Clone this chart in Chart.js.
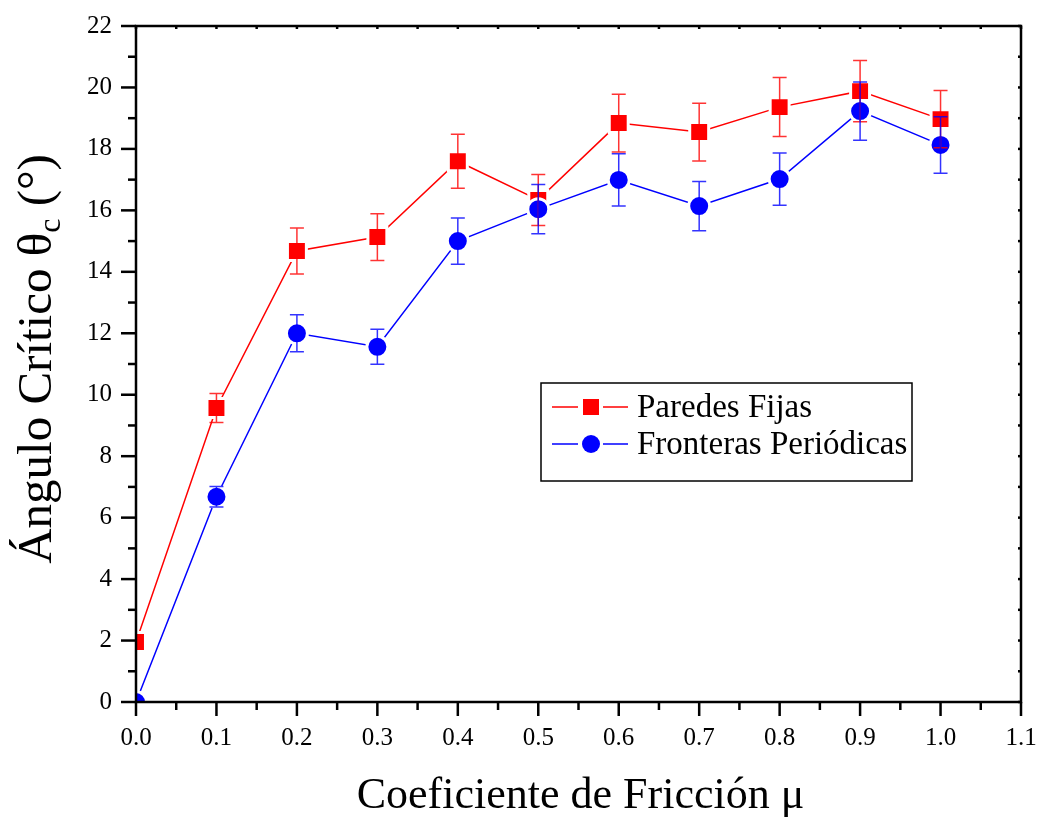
<!DOCTYPE html>
<html>
<head>
<meta charset="utf-8">
<script src="https://cdn.jsdelivr.net/npm/chart.js@4"></script>
<style>
  body { margin: 0; background: #fff; }
</style>
</head>
<body>
<canvas id="chart" width="1042" height="818"></canvas>
<script>
const mu = [0.0, 0.1, 0.2, 0.3, 0.4, 0.5, 0.6, 0.7, 0.8, 0.9, 1.0];
const paredesFijas = [1.95, 9.57, 14.68, 15.13, 17.6, 16.34, 18.84, 18.55, 19.36, 19.88, 18.97];
const paredesErr = [0, 0.47, 0.75, 0.76, 0.88, 0.83, 0.94, 0.94, 0.96, 1.0, 0.93];
const fronteras = [0, 6.68, 12.0, 11.56, 15.0, 16.04, 16.99, 16.14, 17.02, 19.23, 18.13];
const fronterasErr = [0, 0.33, 0.6, 0.57, 0.75, 0.8, 0.85, 0.8, 0.85, 0.95, 0.92];

const serif = '"Liberation Serif", "Times New Roman", serif';

const toPoints = (ys) => mu.map((x, i) => ({ x: x, y: ys[i] }));

// error bars drawn on top of the markers
const errorBars = {
  id: 'errorBars',
  afterDatasetsDraw(chart) {
    const { ctx, scales: { x, y } } = chart;
    ctx.save();
    chart.data.datasets.forEach((ds) => {
      ctx.strokeStyle = ds.errColor;
      ctx.lineWidth = 1.5;
      ds.data.forEach((p, i) => {
        const e = ds.errors[i];
        if (!e) return;
        const px = x.getPixelForValue(p.x);
        const top = y.getPixelForValue(p.y + e);
        const bot = y.getPixelForValue(p.y - e);
        ctx.beginPath();
        ctx.moveTo(px, top); ctx.lineTo(px, bot);
        ctx.moveTo(px - 7, top); ctx.lineTo(px + 7, top);
        ctx.moveTo(px - 7, bot); ctx.lineTo(px + 7, bot);
        ctx.stroke();
      });
    });
    ctx.restore();
  }
};

// box, ticks, titles and legend
const frame = {
  id: 'frame',
  afterDraw(chart) {
    const { ctx, chartArea: a, scales: { x, y } } = chart;
    ctx.save();
    ctx.strokeStyle = '#000';
    ctx.lineWidth = 2.5;
    ctx.strokeRect(a.left, a.top, a.right - a.left, a.bottom - a.top);

    const seg = (x1, y1, x2, y2) => { ctx.beginPath(); ctx.moveTo(x1, y1); ctx.lineTo(x2, y2); ctx.stroke(); };

    const xt = x.ticks.map(t => t.value);
    xt.forEach((v, i) => {
      const px = x.getPixelForValue(v);
      seg(px, a.bottom, px, a.bottom + 14);
      seg(px, a.top, px, a.top + 3);
      if (i < xt.length - 1) {
        const m = x.getPixelForValue((v + xt[i + 1]) / 2);
        seg(m, a.bottom, m, a.bottom + 8);
        seg(m, a.top, m, a.top + 3);
      }
    });
    const yt = y.ticks.map(t => t.value);
    yt.forEach((v, i) => {
      const py = y.getPixelForValue(v);
      seg(a.left - 15, py, a.left, py);
      seg(a.right - 3, py, a.right, py);
      if (i < yt.length - 1) {
        const m = y.getPixelForValue((v + yt[i + 1]) / 2);
        seg(a.left - 8, m, a.left, m);
        seg(a.right - 3, m, a.right, m);
      }
    });

    // axis titles
    ctx.fillStyle = '#000';
    ctx.font = '44px ' + serif;
    ctx.textAlign = 'center';
    ctx.textBaseline = 'alphabetic';
    ctx.fillText('Coeficiente de Fricción μ', (a.left + a.right) / 2 + 2, 808);

    ctx.save();
    ctx.translate(51, 359);
    ctx.rotate(-Math.PI / 2);
    ctx.textAlign = 'left';
    const mainFont = '49px ' + serif, subFont = '32px ' + serif;
    const t1 = 'Ángulo Crítico θ', t2 = 'c', t3 = ' (°)';
    ctx.font = mainFont; const w1 = ctx.measureText(t1).width, w3 = ctx.measureText(t3).width;
    ctx.font = subFont; const w2 = ctx.measureText(t2).width;
    let sx = -(w1 + w2 + w3) / 2;
    ctx.font = mainFont; ctx.fillText(t1, sx, 0); sx += w1;
    ctx.font = subFont; ctx.fillText(t2, sx, 9); sx += w2;
    ctx.font = mainFont; ctx.fillText(t3, sx, 0);
    ctx.restore();

    // legend
    ctx.lineWidth = 1.5;
    ctx.strokeRect(541, 383, 371, 98);
    ctx.font = '33px ' + serif;
    ctx.textAlign = 'left';
    ctx.textBaseline = 'middle';
    chart.data.datasets.slice().sort((p, q) => q.order - p.order).forEach((ds, i) => {
      const cy = 407 + i * 37;
      ctx.strokeStyle = ds.borderColor;
      ctx.lineWidth = 1.5;
      seg(552, cy, 578, cy);
      seg(603, cy, 628, cy);
      ctx.fillStyle = ds.borderColor;
      ctx.beginPath();
      if (ds.pointStyle === 'rect') ctx.rect(583, cy - 8, 16, 16);
      else ctx.arc(591, cy, 9, 0, Math.PI * 2);
      ctx.fill();
      ctx.fillStyle = '#000';
      ctx.fillText(ds.label, 637, cy + 1);
    });
    ctx.restore();
  }
};

new Chart(document.getElementById('chart'), {
  type: 'scatter',
  data: {
    datasets: [
      {
        label: 'Paredes Fijas',
        data: toPoints(paredesFijas),
        errors: paredesErr,
        errColor: 'rgba(255,0,0,0.8)',
        showLine: true,
        borderColor: '#ff0000',
        borderWidth: 1.5,
        pointStyle: 'rect',
        pointRadius: 13.4,
        pointBackgroundColor: '#ff0000',
        pointBorderColor: '#ffffff',
        pointBorderWidth: 3,
        order: 2
      },
      {
        label: 'Fronteras Periódicas',
        data: toPoints(fronteras),
        errors: fronterasErr,
        errColor: 'rgba(0,0,255,0.8)',
        showLine: true,
        borderColor: '#0000ff',
        borderWidth: 1.5,
        pointStyle: 'circle',
        pointRadius: 10.5,
        pointBackgroundColor: '#0000ff',
        pointBorderColor: '#ffffff',
        pointBorderWidth: 3,
        order: 1
      }
    ]
  },
  options: {
    responsive: false,
    animation: false,
    layout: { padding: { top: 26, right: 21, left: 0, bottom: 0 } },
    plugins: { legend: { display: false }, tooltip: { enabled: false } },
    scales: {
      x: {
        type: 'linear',
        min: 0,
        max: 1.1,
        grid: { display: false, drawTicks: false },
        border: { display: false },
        ticks: {
          stepSize: 0.1,
          padding: 21,
          color: '#000',
          font: { family: serif, size: 25 },
          maxRotation: 0,
          callback: (v) => Number(v).toFixed(1)
        },
        afterFit: (s) => { s.height = 116; s.paddingLeft = 0; s.paddingRight = 0; }
      },
      y: {
        min: 0,
        max: 22,
        grid: { display: false, drawTicks: false },
        border: { display: false },
        ticks: {
          stepSize: 2,
          padding: 24,
          color: '#000',
          font: { family: serif, size: 25 }
        },
        afterFit: (s) => { s.width = 136; s.paddingTop = 0; s.paddingBottom = 0; }
      }
    }
  },
  plugins: [errorBars, frame]
});
</script>
</body>
</html>
